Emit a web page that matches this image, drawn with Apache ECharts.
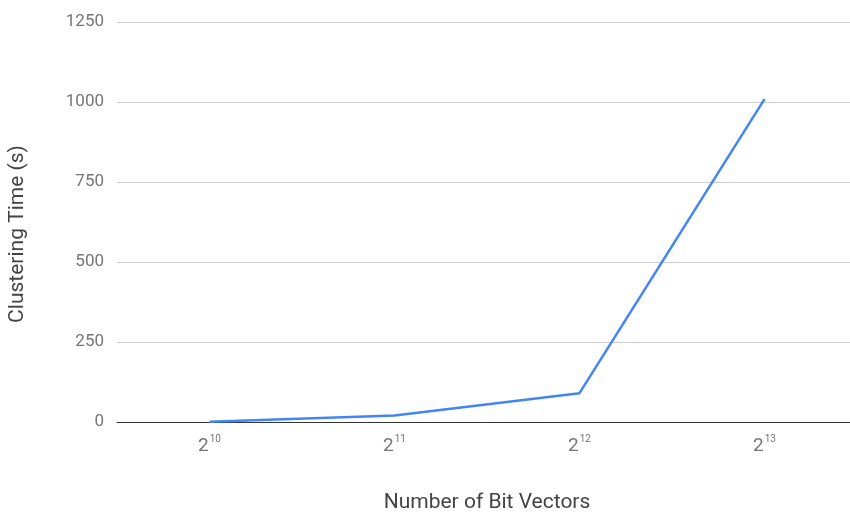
<!DOCTYPE html>
<html><head><meta charset="utf-8">
<script src="https://cdn.jsdelivr.net/npm/echarts@6/dist/echarts.min.js"></script>
<style>html,body{margin:0;padding:0;background:#fff}#c{width:850px;height:514px}</style>
</head><body><div id="c"></div>
<script>
const categories = ['10', '11', '12', '13'];
const clusteringTime = [1, 20, 90, 1009];
const yTicks = [0, 250, 500, 750, 1000, 1250];

const chart = echarts.init(document.getElementById('c'));
chart.setOption({
  animation: false,
  grid: { left: 117, top: 22, width: 740, height: 400, outerBoundsMode: 'none', containLabel: false },
  xAxis: {
    type: 'category',
    data: categories,
    boundaryGap: true,
    axisLine: { show: true, lineStyle: { color: '#333', width: 1 } },
    axisTick: { show: false },
    axisLabel: {
      margin: 12,
      formatter: v => '{b|2}{s|' + v + '}',
      rich: {
        b: { fontFamily: 'Roboto', fontSize: 19, color: '#757575', verticalAlign: 'bottom', lineHeight: 22 },
        s: { fontFamily: 'Roboto', fontSize: 10, color: '#757575', verticalAlign: 'top', padding: [0, 0, 7, 1], lineHeight: 12 }
      }
    },
    name: 'Number of Bit Vectors',
    nameLocation: 'middle',
    nameGap: 70,
    nameTextStyle: { fontFamily: 'Roboto', fontSize: 21, color: '#444' }
  },
  yAxis: {
    type: 'value',
    min: yTicks[0],
    max: yTicks[yTicks.length - 1],
    interval: 250,
    axisLine: { show: false },
    axisTick: { show: false },
    splitLine: { lineStyle: { color: '#cccccc', width: 1 } },
    axisLabel: { margin: 13, fontFamily: 'Roboto', fontSize: 17, color: '#757575', formatter: v => String(v) },
    name: 'Clustering Time (s)',
    nameLocation: 'middle',
    nameGap: 89,
    nameRotate: 90,
    nameTextStyle: { fontFamily: 'Roboto', fontSize: 21, color: '#444', padding: [0, 24, 0, 0] }
  },
  series: [{
    type: 'line',
    data: clusteringTime,
    symbol: 'none',
    lineStyle: { color: '#4285F4', width: 2.5 },
    itemStyle: { color: '#4285F4' }
  }]
});
</script></body></html>
